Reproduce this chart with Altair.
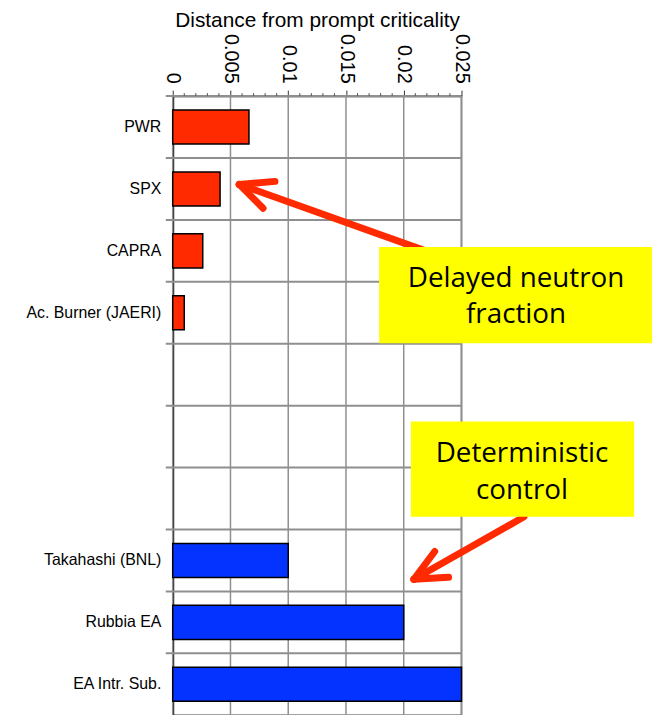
import altair as alt
import pandas as pd

# ---- data ----
categories = ["PWR", "SPX", "CAPRA", "Ac. Burner (JAERI)", "blank1", "blank2", "blank3",
              "Takahashi (BNL)", "Rubbia EA", "EA Intr. Sub."]
bar_names = ["PWR", "SPX", "CAPRA", "Ac. Burner (JAERI)",
             "Takahashi (BNL)", "Rubbia EA", "EA Intr. Sub."]
bar_values = [0.0066, 0.0041, 0.0026, 0.001, 0.010, 0.020, 0.025]
bar_groups = ["Delayed neutron fraction"] * 4 + ["Deterministic control"] * 3
group_names = ["Delayed neutron fraction", "Deterministic control"]
x_major_ticks = [0.0, 0.005, 0.010, 0.015, 0.020, 0.025]
x_minor_ticks = [0.001, 0.002, 0.003, 0.004, 0.006, 0.007, 0.008, 0.009,
                 0.011, 0.012, 0.013, 0.014, 0.016, 0.017, 0.018, 0.019,
                 0.021, 0.022, 0.023, 0.024]
note1_lines = ["Delayed neutron", "fraction"]
note2_lines = ["Deterministic", "control"]

RED = "#FF2A00"
BLUE = "#0433FF"
ARROW = "#FF2A00"
YELLOW = "#FFFF00"
GRID = "#8f8f8f"

df = pd.DataFrame({"name": bar_names, "value": bar_values, "group": bar_groups})
minor_df = pd.DataFrame({"value": x_minor_ticks})
major_df = pd.DataFrame({"value": x_major_ticks})
rows_df = pd.DataFrame({"name": categories})
one = pd.DataFrame({"k": [0]})

x_scale = alt.Scale(domain=[0, 0.025], nice=False, zero=True)
y_scale = alt.Scale(domain=categories, paddingInner=0, paddingOuter=0)

x_axis = alt.Axis(
    orient="top",
    title="Distance from prompt criticality",
    titleFont="Liberation Sans", titleFontSize=21, titleFontWeight="normal",
    titleColor="black", titleY=-70, titleBaseline="alphabetic",
    values=x_major_ticks, format="~g",
    labelAngle=90, labelAlign="right", labelBaseline="middle",
    labelFont="Liberation Sans", labelFontSize=20, labelColor="black",
    labelPadding=7, labelOverlap=False, labelFlush=False,
    tickColor="#333", tickWidth=1, tickSize=6,
    domainColor="black", domainWidth=1.5,
    grid=False,
)

y_axis = alt.Axis(
    title=None, ticks=False, grid=False,
    domainColor="black", domainWidth=2,
    labelFont="Liberation Sans", labelFontSize=16, labelColor="black", labelPadding=12,
    labelExpr="indexof(datum.label, 'blank') == 0 ? '' : datum.label",
)

# vertical grid lines at the major ticks
vgrid = alt.Chart(major_df).mark_rule(color=GRID, strokeWidth=1.5).encode(
    x=alt.X("value:Q", scale=x_scale, axis=x_axis),
    y=alt.value(0), y2=alt.value(624),
)

# row separators at band boundaries (filled ticks), extending left of the axis
rows = alt.Chart(rows_df).mark_tick(
    orient="horizontal", size=298, thickness=2, color=GRID, opacity=1
).encode(
    y=alt.Y("name:N", sort=categories, scale=y_scale, axis=y_axis, bandPosition=0),
    x=alt.value(142),
)

bars = alt.Chart(df).mark_bar(
    height=alt.RelativeBandSize(band=0.55), stroke="black", strokeWidth=1.5
).encode(
    x=alt.X("value:Q", scale=x_scale, axis=x_axis),
    y=alt.Y("name:N", sort=categories, scale=y_scale, axis=y_axis),
    color=alt.Color("group:N", scale=alt.Scale(domain=group_names, range=[RED, BLUE]), legend=None),
)

minor = alt.Chart(minor_df).mark_rule(color="#555", strokeWidth=1).encode(
    x=alt.X("value:Q", scale=x_scale, axis=x_axis),
    y=alt.value(0), y2=alt.value(-3),
)


def seg(x, y, x2, y2):
    return alt.Chart(one).mark_rule(color=ARROW, strokeWidth=7, strokeCap="round").encode(
        x=alt.value(x), y=alt.value(y), x2=alt.value(x2), y2=alt.value(y2))


def box(x, x2, y, y2):
    return alt.Chart(one).mark_rect(color=YELLOW).encode(
        x=alt.value(x), x2=alt.value(x2), y=alt.value(y), y2=alt.value(y2))


def label(s, x, y):
    return alt.Chart(one).mark_text(
        text=s, font="Open Sans", fontSize=28, align="center", baseline="middle", color="black"
    ).encode(x=alt.value(x), y=alt.value(y))


layers = [
    vgrid,
    rows,
    bars,
    minor,
    # arrow 1 (to SPX)
    seg(67, 89, 266, 160), seg(67, 89, 103, 86), seg(67, 89, 91, 113),
    # arrow 2
    seg(243, 487, 354, 424), seg(243, 487, 264, 459), seg(243, 487, 278, 485),
    box(208, 483, 152, 249),
    box(240, 465, 328, 424),
    label(note1_lines[0], 346, 184), label(note1_lines[1], 346, 221),
    label(note2_lines[0], 352, 361), label(note2_lines[1], 352, 398),
]

chart = alt.layer(*layers).properties(
    width=291, height=624,
    autosize=alt.AutoSizeParams(type="none"),
    padding={"left": 166, "top": 86, "right": 193, "bottom": 0},
).configure_view(stroke="#444", strokeWidth=1.5)

chart.save("out.html", embed_options={"renderer": "svg", "actions": False})
